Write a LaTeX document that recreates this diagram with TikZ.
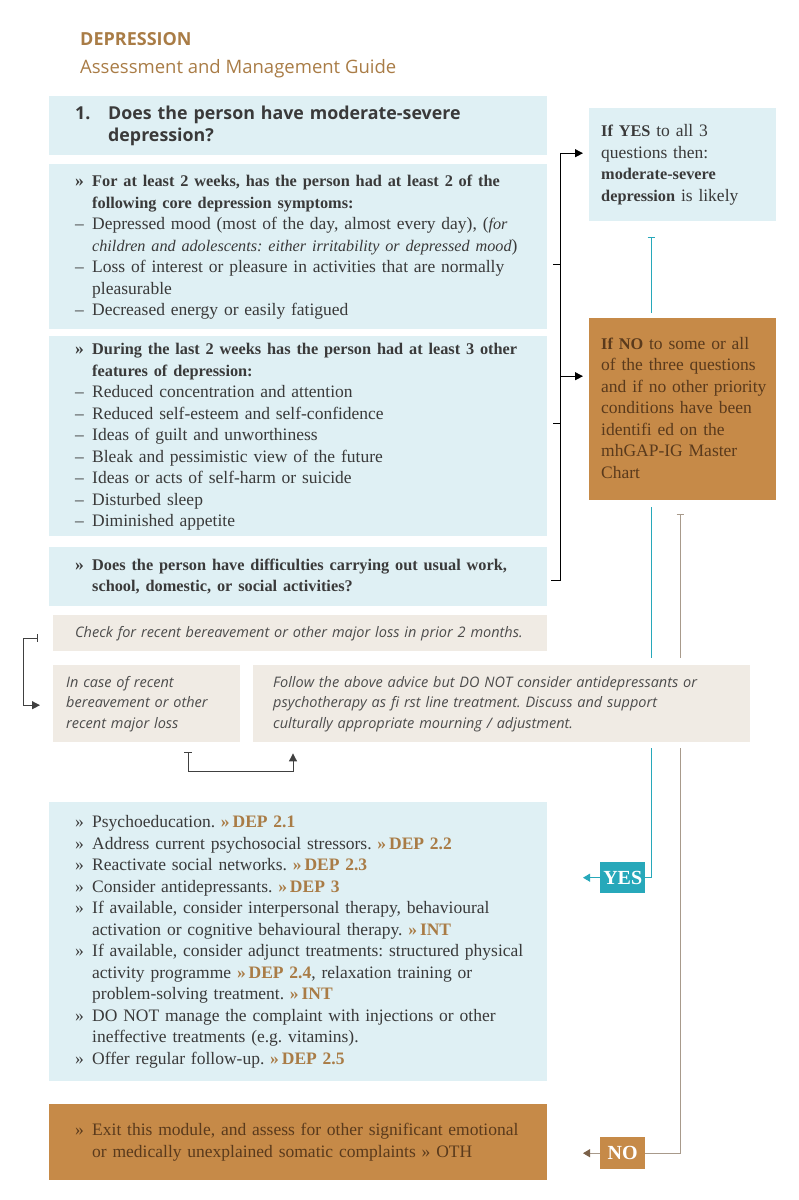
\documentclass[tikz,border=0pt]{standalone}
\usepackage{fontspec}
\setmainfont{Liberation Serif}
\newfontfamily\headfont{Open Sans}
\usetikzlibrary{positioning,arrows.meta,calc}

\definecolor{qblue}{HTML}{DFF0F4}
\definecolor{ochre}{HTML}{C68A48}
\definecolor{ochreink}{HTML}{5A3A1C}
\definecolor{titlebrown}{HTML}{A97C46}
\definecolor{sand}{HTML}{F0EBE4}
\definecolor{tealline}{HTML}{27A8BA}
\definecolor{greybrown}{HTML}{A89A8B}
\definecolor{ink}{HTML}{3A3A3A}
\definecolor{noteink}{HTML}{4C4C4C}

\newcommand{\bodyfont}{\fontsize{17.5}{21.5}\selectfont}
\newcommand{\notefont}{\headfont\itshape\fontsize{14.5}{20.5}\selectfont}
\newcommand{\lst}[1]{\begin{tabular}{@{}p{17pt}@{}l@{}}#1\end{tabular}}
\newcommand{\rows}[1]{\begin{tabular}{@{}l@{}}#1\end{tabular}}
\newcommand{\hd}[1]{{\bfseries\fontsize{16.3}{21.5}\selectfont #1}}
\newcommand{\aside}[1]{{\itshape\fontsize{16.2}{21.5}\selectfont #1}}
\newcommand{\dep}[1]{{\color{titlebrown}\bfseries »\,#1}}

\begin{document}
\frenchspacing
\begin{tikzpicture}[x=1pt,y=-1pt,
  box/.style={anchor=north west,inner ysep=0pt,align=left,text=ink,font=\bodyfont},
  bluebox/.style={box,fill=qblue,inner xsep=26pt,minimum width=498pt,text width=446pt},
  sandbox/.style={box,fill=sand,text=noteink,font=\notefont},
  resultbox/.style={box,inner xsep=12pt,minimum width=187pt,text width=163pt},
  tag/.style={anchor=north west,inner sep=0pt,minimum width=45pt,text=white,font=\fontsize{20}{20}\selectfont\bfseries},
  conn/.style={line width=0.9pt,black,-{Triangle[length=8pt,width=8pt]}},
  tick/.style={line width=0.9pt,black},
  greyconn/.style={line width=0.9pt,black!75,{Bar[width=8pt]}-{Triangle[length=8pt,width=8pt]}},
  tealln/.style={line width=0.9pt,tealline},
  brownln/.style={line width=0.9pt,greybrown}]
\useasboundingbox (0,0) rectangle (799,1200);

% heading
\node[anchor=west,inner sep=0pt,text=titlebrown,font=\headfont\fontsize{18}{18}\selectfont\bfseries] (title) at (80,39) {DEPRESSION};
\node[anchor=west,inner sep=0pt,text=titlebrown,font=\headfont\fontsize{18.5}{18.5}\selectfont] (subtitle) at (80,69) {Assessment and Management Guide};

% questions
\node[bluebox,minimum height=59pt,font=\headfont\fontsize{17.8}{22}\selectfont\bfseries] (q1) at (49,96)
  {\begin{tabular}{@{}p{33pt}@{}l@{}}1. & Does the person have moderate-severe\\ & depression?\end{tabular}};
\node[bluebox,minimum height=165pt] (qa) at (49,164) {\lst{%
  \bfseries » & \hd{For at least 2 weeks, has the person had at least 2 of the}\\
    & \hd{following core depression symptoms:}\\
  – & Depressed mood (most of the day, almost every day), (\aside{for}\\
    & \aside{children and adolescents: either irritability or depressed mood})\\
  – & Loss of interest or pleasure in activities that are normally\\
    & pleasurable\\
  – & Decreased energy or easily fatigued}};
\node[bluebox,minimum height=200pt] (qb) at (49,336) {\lst{%
  \bfseries » & \hd{During the last 2 weeks has the person had at least 3 other}\\
    & \hd{features of depression:}\\
  – & Reduced concentration and attention\\
  – & Reduced self-esteem and self-confidence\\
  – & Ideas of guilt and unworthiness\\
  – & Bleak and pessimistic view of the future\\
  – & Ideas or acts of self-harm or suicide\\
  – & Disturbed sleep\\
  – & Diminished appetite}};
\node[bluebox,minimum height=59pt] (qc) at (49,547) {\lst{%
  \bfseries » & \hd{Does the person have difficulties carrying out usual work,}\\
    & \hd{school, domestic, or social activities?}}};

% results
\node[resultbox,fill=qblue,minimum height=113pt] (yesres) at (589,108)
  {\rows{\hd{If YES} to all 3\\questions then:\\\hd{moderate-severe}\\\hd{depression} is likely}};
\node[resultbox,fill=ochre,text=ochreink,minimum height=182pt] (nores) at (589,318)
  {\rows{\hd{If NO} to some or all\\of the three questions\\and if no other priority\\conditions have been\\identifi ed on the\\mhGAP-IG Master\\Chart}};

% bereavement
\node[sandbox,inner xsep=22pt,minimum width=494pt,text width=450pt,minimum height=36pt] (check) at (53,615)
  {\rows{Check for recent bereavement or other major loss in prior 2 months.}};
\node[sandbox,inner xsep=13pt,minimum width=187pt,text width=161pt,minimum height=77pt] (bereave) at (53,665)
  {\rows{In case of recent\\bereavement or other\\recent major loss}};
\node[sandbox,inner xsep=20pt,minimum width=497pt,text width=457pt,minimum height=77pt] (follow) at (253,665)
  {\rows{Follow the above advice but DO NOT consider antidepressants or\\psychotherapy as fi rst line treatment. Discuss and support\\culturally appropriate mourning / adjustment.}};

% management
\node[bluebox,minimum height=279pt] (treat) at (49,802) {\lst{%
  » & Psychoeducation. \dep{DEP 2.1}\\
  » & Address current psychosocial stressors. \dep{DEP 2.2}\\
  » & Reactivate social networks. \dep{DEP 2.3}\\
  » & Consider antidepressants. \dep{DEP 3}\\
  » & If available, consider interpersonal therapy, behavioural\\
    & activation or cognitive behavioural therapy. \dep{INT}\\
  » & If available, consider adjunct treatments: structured physical\\
    & activity programme \dep{DEP 2.4}, relaxation training or\\
    & problem-solving treatment. \dep{INT}\\
  » & DO NOT manage the complaint with injections or other\\
    & ineffective treatments (e.g. vitamins).\\
  » & Offer regular follow-up. \dep{DEP 2.5}}};
\node[bluebox,fill=ochre,text=ochreink,minimum height=76pt] (exit) at (49,1104) {\lst{%
  » & Exit this module, and assess for other significant emotional\\
    & or medically unexplained somatic complaints » OTH}};

% yes / no tags
\node[tag,fill=tealline,minimum height=31pt] (yestag) at (600,862) {YES};
\node[tag,fill=ochre,minimum height=32pt] (notag) at (600,1137) {NO};

% bracket of the three questions
\draw[conn] ([xshift=4pt,yshift=-3.5pt]qc.east) -- ++(9,0) |- ([xshift=-6pt,yshift=11.5pt]yesres.west);
\draw[conn] ([xshift=13pt,yshift=60pt]qb.east) -- ([xshift=-6pt,yshift=33pt]nores.west);
\draw[tick] ([xshift=6pt,yshift=-17.5pt]qa.east) -- ++(7,0);
\draw[tick] ([xshift=6pt,yshift=13pt]qb.east) -- ++(7,0);

% bereavement arrows
\draw[greyconn] ($(check.west)+(-15,5)$) -- ++(-15,0) |- ($(bereave.west)+(-13,1.5)$);
\draw[greyconn] ($(bereave.south)+(41.5,10)$) -- ++(0,19) -| ($(follow.south west)+(40,11)$);

% yes and no lines
\path (yesres.south) ++(-31.5,0) coordinate (tl);
\path (nores.south) ++(-2.5,0) coordinate (bl);
\draw[tealln,{Bar[width=7pt]}-] ($(tl)+(0,16)$) -- ($(tl |- nores.north)+(0,-5)$);
\draw[tealln] ($(tl |- nores.south)+(0,7)$) -- ($(tl |- follow.north)+(0,-7)$);
\draw[tealln] ($(tl |- follow.south)+(0,6)$) |- (yestag.east);
\draw[brownln,{Bar[width=7pt]}-] ($(bl)+(0,14)$) -- ($(bl |- follow.north)+(0,-7)$);
\draw[brownln] ($(bl |- follow.south)+(0,6)$) |- (notag.east);
\draw[tealln,-{Triangle[length=7pt,width=8pt]}] (yestag.west) -- ++(-17,0);
\draw[line width=0.9pt,greybrown,-{Triangle[length=7pt,width=8pt,color=ochreink!80]}] (notag.west) -- ++(-17,0);
\end{tikzpicture}
\end{document}
